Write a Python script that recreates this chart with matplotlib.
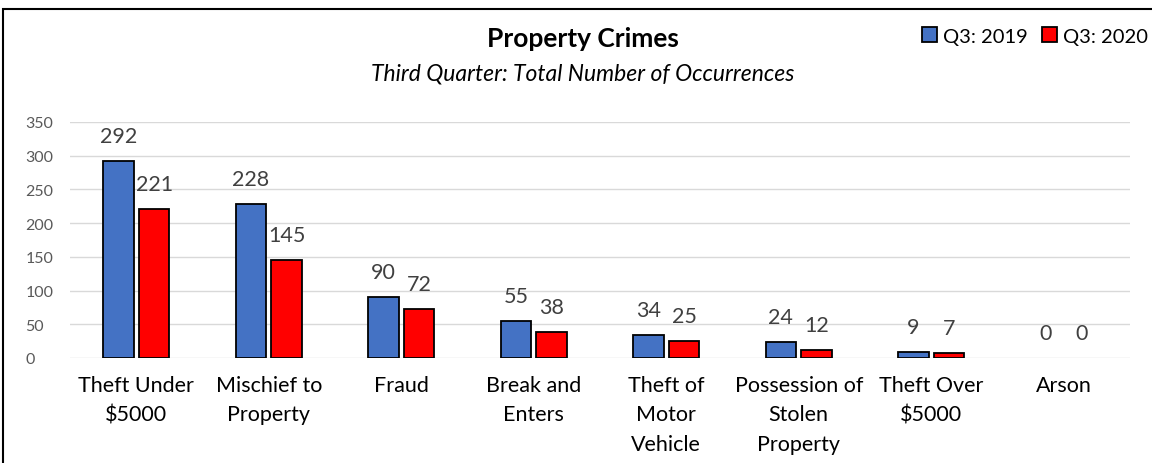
import matplotlib
matplotlib.use("Agg")
import matplotlib.pyplot as plt
import numpy as np
from matplotlib.patches import Rectangle

categories = ["Theft Under\n$5000", "Mischief to\nProperty", "Fraud", "Break and\nEnters",
              "Theft of\nMotor\nVehicle", "Possession of\nStolen\nProperty", "Theft Over\n$5000", "Arson"]
q3_2019 = [292, 228, 90, 55, 34, 24, 9, 0]
q3_2020 = [221, 145, 72, 38, 25, 12, 7, 0]
series_names = ["Q3: 2019", "Q3: 2020"]
yticks = [0, 50, 100, 150, 200, 250, 300, 350]

plt.rcParams['font.family'] = ['Lato', 'DejaVu Sans']

W, H = 1152, 464
fig = plt.figure(figsize=(W/100, H/100), dpi=100)
ax = fig.add_axes([70/W, 1-359/H, 1060/W, (359-123)/H])

x = np.arange(len(categories))
bw = 0.23
off = 0.135
b1 = ax.bar(x - off, q3_2019, bw, color="#4472C4", edgecolor="black",
            linewidth=[1.3 if v > 0 else 0 for v in q3_2019], label=series_names[0], zorder=3)
b2 = ax.bar(x + off, q3_2020, bw, color="#FF0000", edgecolor="black",
            linewidth=[1.3 if v > 0 else 0 for v in q3_2020], label=series_names[1], zorder=3)

for bars, vals in ((b1, q3_2019), (b2, q3_2020)):
    for rect, v in zip(bars, vals):
        ax.annotate(str(v), (rect.get_x() + rect.get_width()/2, v), xytext=(0, 11),
                    textcoords="offset points", ha="center", va="bottom", fontsize=15.5, color="#404040")

ax.set_xlim(-0.5, len(categories) - 0.5)
ax.set_ylim(0, 350)
ax.set_yticks(yticks)
ax.set_yticklabels([str(t) for t in yticks], fontsize=11.5, color="#595959")
ax.set_xticks(x)
ax.set_xticklabels(categories, fontsize=15.5, color="black", linespacing=1.6)
ax.tick_params(axis="both", length=0)
ax.tick_params(axis="x", pad=12)
ax.tick_params(axis="y", pad=32)
for lbl in ax.get_yticklabels():
    lbl.set_horizontalalignment("left")
ax.grid(axis="y", color="#D9D9D9", linewidth=1, zorder=0)
for s in ax.spines.values():
    s.set_visible(False)

fig.text(583/W, 1-39/H, "Property Crimes", ha="center", va="center", fontsize=19, fontweight="bold")
fig.text(583/W, 1-74/H, "Third Quarter: Total Number of Occurrences", ha="center", va="center",
         fontsize=16.5, style="italic")

leg = fig.legend(handles=[b1, b2], labels=series_names, loc="center right", bbox_to_anchor=(1148/W, 1-37/H),
                 ncol=2, frameon=False, fontsize=14.5, handlelength=0.75, handleheight=0.75,
                 handletextpad=0.3, columnspacing=0.7, borderpad=0, borderaxespad=0)

# figure border (left and top visible)
fig.add_artist(Rectangle((3/W, -0.1), 1.2, 1 - 10/H + 0.1, transform=fig.transFigure,
                         fill=False, edgecolor="black", linewidth=1.5))

fig.savefig("out.png", dpi=100)
